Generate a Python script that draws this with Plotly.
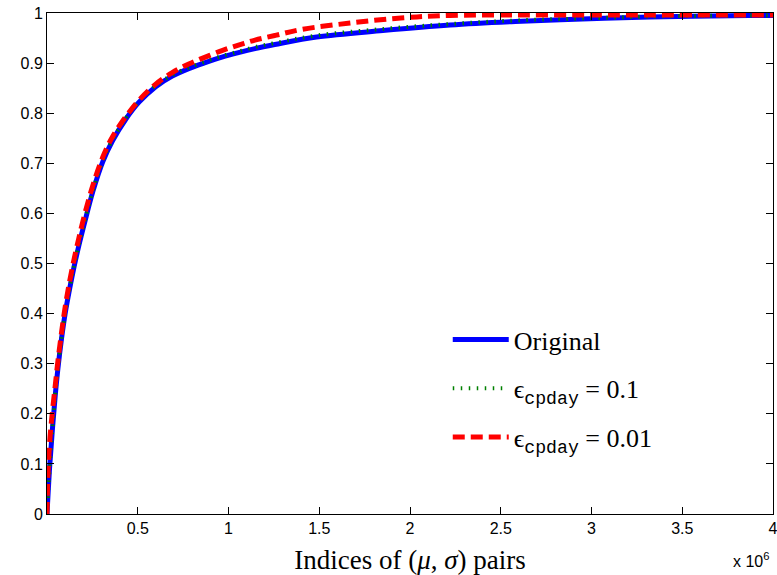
import plotly.graph_objects as go

# ---- data (x = index of (mu, sigma) pair, y = cumulative fraction) ----
orig_x = [0, 1.5e4, 3e4, 4.5e4, 6e4, 8e4, 1e5, 1.25e5, 1.5e5, 1.75e5, 2.06e5, 2.52e5, 3.07e5,
          3.61e5, 4.34e5, 5.07e5, 5.99e5, 6.9e5, 7.81e5, 8.72e5, 9.64e5, 1.055e6, 1.146e6,
          1.255e6, 1.485e6, 1.85e6, 2.22e6, 2.58e6, 2.95e6, 3.32e6, 3.87e6, 4.0e6]
orig_y = [0, 0.096, 0.17, 0.235, 0.29, 0.35, 0.40, 0.45, 0.495, 0.535, 0.58, 0.643, 0.703,
          0.745, 0.788, 0.822, 0.853, 0.874, 0.889, 0.901, 0.912, 0.921, 0.929,
          0.937, 0.952, 0.965, 0.976, 0.983, 0.988, 0.992, 0.995, 0.995]

eps01_x = [0, 1.5e4, 3e4, 4.5e4, 6e4, 8e4, 1e5, 1.25e5, 1.5e5, 1.75e5, 2.06e5, 2.52e5, 3.07e5,
           3.61e5, 4.34e5, 5.07e5, 5.99e5, 6.9e5, 7.81e5, 8.72e5, 9.64e5, 1.055e6, 1.146e6,
           1.255e6, 1.485e6, 1.85e6, 2.22e6, 2.58e6, 2.95e6, 3.32e6, 3.87e6, 4.0e6]
eps01_y = [0, 0.097, 0.172, 0.237, 0.292, 0.351, 0.401, 0.451, 0.497, 0.537, 0.582, 0.645, 0.705,
           0.747, 0.790, 0.824, 0.855, 0.876, 0.891, 0.903, 0.914, 0.923, 0.932,
           0.940, 0.955, 0.968, 0.978, 0.985, 0.989, 0.993, 0.995, 0.995]

eps001_x = [0, 5e3, 1.5e4, 3e4, 4.5e4, 6e4, 8e4, 1e5, 1.25e5, 1.5e5, 1.75e5, 2.06e5, 2.52e5,
            3.07e5, 3.61e5, 4.34e5, 5.07e5, 5.99e5, 6.9e5, 7.81e5, 8.72e5, 9.64e5, 1.055e6,
            1.146e6, 1.255e6, 1.4e6, 1.67e6, 1.95e6, 2.22e6, 3.0e6, 4.0e6]
eps001_y = [0, 0.075, 0.145, 0.205, 0.255, 0.305, 0.362, 0.413, 0.465, 0.51, 0.55, 0.596, 0.655,
            0.712, 0.753, 0.793, 0.826, 0.858, 0.881, 0.898, 0.912, 0.925, 0.936,
            0.946, 0.955, 0.967, 0.98, 0.99, 0.995, 0.996, 0.996]

x_tickvals = [0.5e6, 1e6, 1.5e6, 2e6, 2.5e6, 3e6, 3.5e6, 4e6]
x_ticktext = ["0.5", "1", "1.5", "2", "2.5", "3", "3.5", "4"]
y_tickvals = [0, 0.1, 0.2, 0.3, 0.4, 0.5, 0.6, 0.7, 0.8, 0.9, 1]
y_ticktext = ["0", "0.1", "0.2", "0.3", "0.4", "0.5", "0.6", "0.7", "0.8", "0.9", "1"]

mono = "<span style='font-family:Liberation Mono'>cpday</span>"
names = ["Original",
         "ϵ<sub>" + mono + "</sub> = 0.1",
         "ϵ<sub>" + mono + "</sub> = 0.01"]

fig = go.Figure()
fig.add_trace(go.Scatter(x=orig_x, y=orig_y, mode="lines", name=names[0], legendgroup="a",
                         line=dict(color="#0000ff", width=5, shape="spline", smoothing=1.0)))
fig.add_trace(go.Scatter(x=eps01_x, y=eps01_y, mode="lines", name=names[1], legendgroup="b",
                         line=dict(color="#008000", width=4, dash="1.5px,6.5px", shape="spline", smoothing=1.0)))
fig.add_trace(go.Scatter(x=eps001_x, y=eps001_y, mode="lines", name=names[2], legendgroup="c",
                         line=dict(color="#ff0000", width=5, dash="12px,6px", shape="spline", smoothing=1.0)))

axis_common = dict(showgrid=False, zeroline=False, showline=True, linecolor="black", linewidth=1,
                   mirror="ticks", ticks="inside", ticklen=7, tickcolor="black",
                   ticklabeloverflow="allow", automargin=False,
                   tickfont=dict(family="Liberation Sans", size=16, color="black"))

fig.update_layout(
    width=777, height=575,
    margin=dict(l=47, r=4, t=13, b=61, autoexpand=False),
    plot_bgcolor="white", paper_bgcolor="white",
    showlegend=True,
    legend=dict(x=0.552, y=0.395, xanchor="left", yanchor="top", bgcolor="rgba(0,0,0,0)",
                font=dict(family="Liberation Serif", size=26, color="black"),
                tracegroupgap=12, itemwidth=56),
    xaxis=dict(range=[0, 4e6], tickvals=x_tickvals, ticktext=x_ticktext,
               title=dict(text="Indices of (<i>μ</i>, <i>σ</i>) pairs", standoff=14,
                          font=dict(family="Liberation Serif", size=27, color="black")),
               **axis_common),
    yaxis=dict(range=[0, 1], tickvals=y_tickvals, ticktext=y_ticktext, **axis_common),
)

fig.add_annotation(text="x 10<sup>6</sup>", xref="paper", yref="paper", x=0.997, y=-0.068,
                   xanchor="right", yanchor="top", showarrow=False,
                   font=dict(family="Liberation Sans", size=16, color="black"))

fig.write_html("out.html")
